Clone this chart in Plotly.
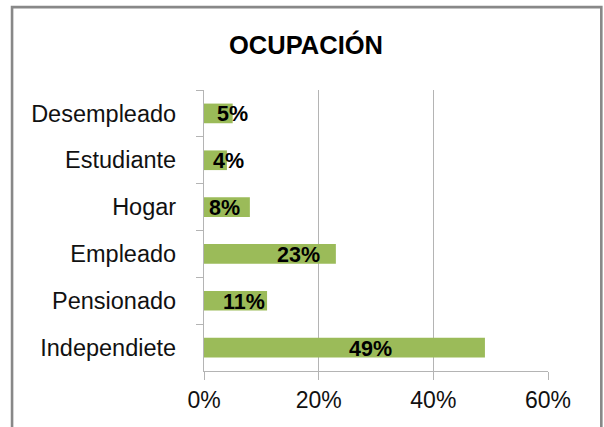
import plotly.graph_objects as go

# Occupation breakdown (percent of respondents), listed top to bottom
categories = ["Desempleado", "Estudiante", "Hogar", "Empleado", "Pensionado", "Independiete"]
values = [5, 4, 8, 23, 11, 49]
x_ticks = [0, 20, 40, 60]
x_tick_labels = ["0%", "20%", "40%", "60%"]

# horizontal nudge (px) of each value label relative to the end of its bar
label_shift = [0, 2, -25, -37, -23, -114]

FONT = "Liberation Sans, Arial, sans-serif"
GRID = "#b4b4b4"

fig = go.Figure(
    go.Bar(
        y=categories,
        x=values,
        orientation="h",
        marker=dict(color="#9bbb59", line=dict(width=0)),
        hoverinfo="skip",
    )
)

for cat, val, dx in zip(categories, values, label_shift):
    fig.add_annotation(
        x=val, y=cat, xref="x", yref="y",
        text=f"<b>{val}%</b>", showarrow=False,
        xanchor="center", yanchor="middle", xshift=dx, yshift=-1,
        font=dict(family=FONT, size=21.5, color="#000000"),
    )

# outer chart frame
fig.add_shape(
    type="rect", xref="paper", yref="paper",
    x0=-0.558, x1=1.155, y0=-0.3, y1=1.295,
    line=dict(color="#888888", width=2.6), fillcolor="rgba(0,0,0,0)",
    layer="below",
)

fig.update_layout(
    width=604, height=427,
    margin=dict(l=204, r=56, t=90, b=56),
    paper_bgcolor="white", plot_bgcolor="white",
    bargap=0.58,
    showlegend=False,
    title=dict(
        text="<b>OCUPACIÓN</b>", x=306 / 604, xref="container", xanchor="center",
        y=1 - 45 / 427, yref="container", yanchor="middle",
        font=dict(family=FONT, size=25.5, color="#000000"),
    ),
    font=dict(family=FONT, color="#000000"),
)

fig.update_xaxes(
    range=[0, 60], tickvals=x_ticks, ticktext=x_tick_labels,
    showgrid=True, gridcolor=GRID, gridwidth=1.3,
    showline=True, linecolor=GRID, linewidth=1.3,
    ticks="outside", ticklen=8, tickcolor=GRID, tickwidth=1.3,
    tickfont=dict(family=FONT, size=23, color="#111111"),
    zeroline=False, fixedrange=True,
)
fig.update_yaxes(
    autorange="reversed", type="category",
    showgrid=False,
    showline=True, linecolor=GRID, linewidth=1.3,
    ticks="outside", tickson="boundaries", ticklen=7, tickcolor=GRID, tickwidth=1.3,
    ticklabelstandoff=22,
    tickfont=dict(family=FONT, size=23.5, color="#111111"),
    fixedrange=True,
)

fig.write_html("out.html")
